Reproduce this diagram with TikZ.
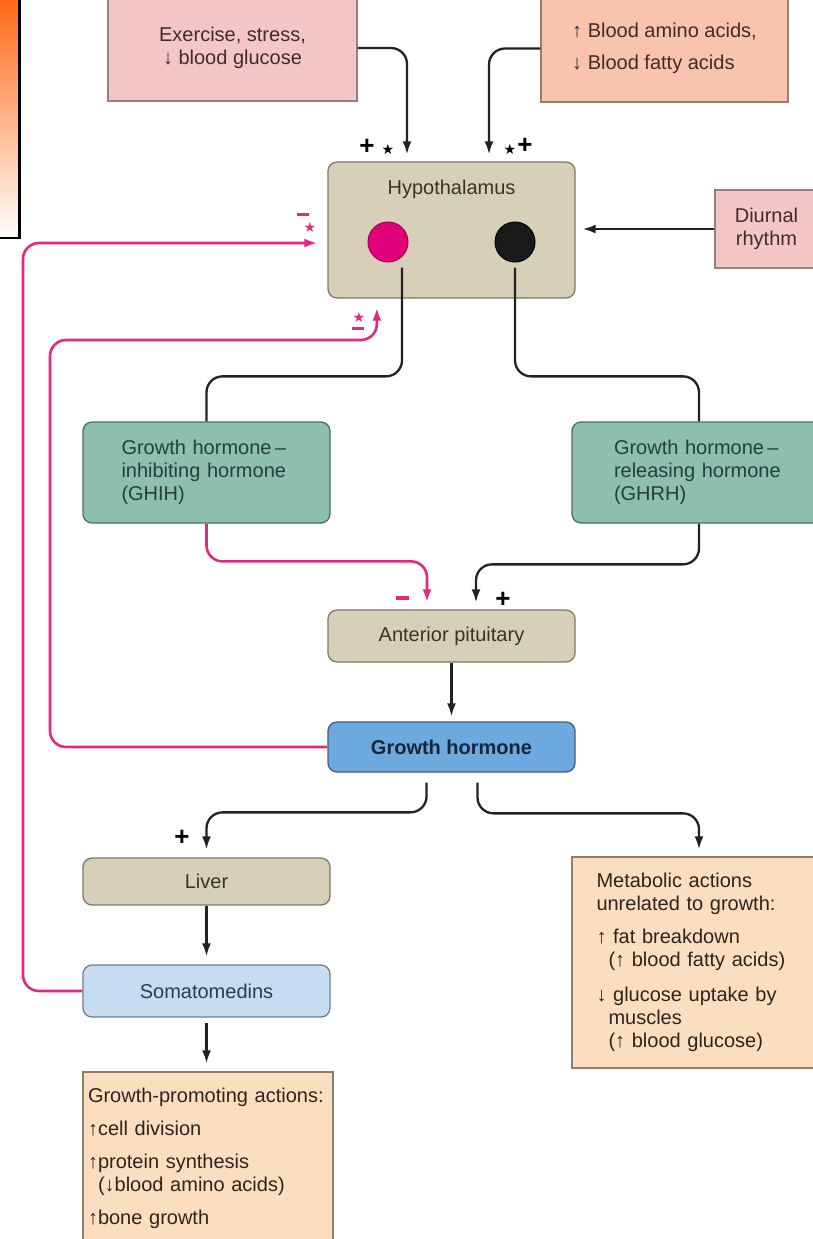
\documentclass[tikz,border=0pt]{standalone}
\usepackage{fontspec}
\setmainfont{Liberation Sans}
\newfontfamily\symf{DejaVu Sans}
\usetikzlibrary{arrows.meta,calc}
\definecolor{pinkc}{HTML}{F5C6C6}\definecolor{pinkb}{HTML}{9A7E7E}\definecolor{pinkt}{HTML}{3E2C2C}
\definecolor{salmc}{HTML}{F8C4AE}\definecolor{salmb}{HTML}{9A7E70}
\definecolor{tanc}{HTML}{D8CFB8}\definecolor{tanb}{HTML}{7E7868}\definecolor{tant}{HTML}{3A3428}
\definecolor{tealc}{HTML}{8DBEB0}\definecolor{tealb}{HTML}{4E6E66}\definecolor{tealt}{HTML}{23403A}
\definecolor{bluec}{HTML}{6DA9DF}\definecolor{blueb}{HTML}{40607E}\definecolor{bluet}{HTML}{14263A}
\definecolor{lbluec}{HTML}{C6DDF1}\definecolor{lblueb}{HTML}{6A7F92}\definecolor{lbluet}{HTML}{2C3C4C}
\definecolor{peachc}{HTML}{FBDDBF}\definecolor{peachb}{HTML}{8E7E6E}\definecolor{peacht}{HTML}{2E241C}
\definecolor{fbpink}{HTML}{E2287F}\definecolor{circpink}{HTML}{E2007A}\definecolor{linec}{HTML}{222222}
\definecolor{decoor}{HTML}{FF6410}
\newcommand{\dfont}{\fontsize{20}{23}\selectfont}
\tikzset{
 base/.style={line width=1.3pt, inner sep=0pt, font=\dfont, align=center},
 sqbox/.style={base, rectangle},
 rbox/.style={base, rectangle, rounded corners=9pt},
 conn/.style={line width=2.3pt, draw=linec, -{Latex[length=13pt,width=9pt]}, rounded corners=16pt},
 fb/.style={conn, draw=fbpink, line width=2.6pt},
 plus/.style={font=\fontsize{26}{26}\selectfont\bfseries, text=black, inner sep=0pt},
 starb/.style={font=\symf\fontsize{14}{14}\selectfont, inner sep=0pt},
 bar/.style={fill=fbpink, minimum width=12pt, minimum height=3pt, inner sep=0pt},
}
\begin{document}
\begin{tikzpicture}[x=1pt,y=-1pt]
\useasboundingbox (0,0) rectangle (813,1239);
% decorative gradient box
\node[draw=black, line width=2.5pt, top color=decoor, bottom color=white, minimum width=26pt, minimum height=245pt, anchor=south east, inner sep=0pt] (deco) at (20.5,239) {};
% boxes
\node[sqbox, fill=pinkc, draw=pinkb, text=pinkt, minimum width=249pt, minimum height=106pt] (ex) at (232.5,48) {Exercise, stress,\\↓ blood glucose};
\node[sqbox, fill=salmc, draw=salmb, text=pinkt, minimum width=247pt, minimum height=107pt, align=left] (am) at (664.5,48.5) {↑ Blood amino acids,\\[9pt]↓ Blood fatty acids};
\node[rbox, fill=tanc, draw=tanb, minimum width=247pt, minimum height=136pt, label={[anchor=north, yshift=-18pt, inner sep=0pt, font=\dfont, text=tant]north:Hypothalamus}] (hyp) at (451.5,230) {};
\node[circle, fill=circpink, draw=circpink!70!black, line width=1pt, minimum size=40pt, inner sep=0pt] (pc) at (388,242) {};
\node[circle, fill=black!90, draw=black, line width=1pt, minimum size=40pt, inner sep=0pt] (bc) at (515,242) {};
\node[sqbox, fill=pinkc, draw=pinkb, text=pinkt, minimum width=103pt, minimum height=78pt] (di) at (766.5,229) {Diurnal\\rhythm};
\node[rbox, fill=tealc, draw=tealb, text=tealt, minimum width=247pt, minimum height=101pt, text width=170pt, align=left] (ghih) at (206.5,472.5) {Growth hormone\,–\\inhibiting hormone\\(GHIH)};
\node[rbox, fill=tealc, draw=tealb, text=tealt, minimum width=254pt, minimum height=101pt, text width=170pt, align=left] (ghrh) at (699,472.5) {Growth hormone\,–\\releasing hormone\\(GHRH)};
\node[rbox, fill=tanc, draw=tanb, text=tant, minimum width=247pt, minimum height=52pt] (pit) at (451.5,636) {Anterior pituitary};
\node[rbox, fill=bluec, draw=blueb, text=bluet, minimum width=247pt, minimum height=50pt, font=\dfont\bfseries] (gh) at (451.5,747) {Growth hormone};
\node[rbox, fill=tanc, draw=tanb, text=tant, minimum width=247pt, minimum height=47pt] (liver) at (206.5,881.5) {Liver};
\node[rbox, fill=lbluec, draw=lblueb, text=lbluet, minimum width=247pt, minimum height=52pt] (som) at (206.5,991) {Somatomedins};
\node[sqbox, fill=peachc, draw=peachb, text=peacht, minimum width=250pt, minimum height=172pt, text width=240pt, align=left] (gp) at (208,1158) {Growth-promoting actions:\\[10pt]↑cell division\\[10pt]↑protein synthesis\\\hspace*{10pt}(↓blood amino acids)\\[10pt]↑bone growth};
\node[sqbox, fill=peachc, draw=peachb, text=peacht, minimum width=254pt, minimum height=211pt, text width=205pt, align=left] (met) at (699,962.5) {Metabolic actions\\unrelated to growth:\\[10pt]↑ fat breakdown\\\hspace*{12pt}(↑ blood fatty acids)\\[12pt]↓ glucose uptake by\\\hspace*{12pt}muscles\\\hspace*{12pt}(↑ blood glucose)};
% connectors
\draw[conn, shorten >=7pt] (ex.east) -| ([xshift=-44.5pt]hyp.north);
\draw[conn, shorten >=7pt] (am.west) -| ([xshift=37.5pt]hyp.north);
\draw[conn, shorten >=7pt] (di.west) -- (di.west -| hyp.east);
\draw[conn, -] ([xshift=14pt,yshift=-5pt]pc.south) |- ($(ghih.north)+(0,-45)$) -- (ghih.north);
\draw[conn, -] ([yshift=-5pt]bc.south) |- ($(ghrh.north)+(0,-45)$) -- (ghrh.north);
\draw[fb, shorten >=7pt] (ghih.south) |- ($([xshift=-24.5pt]pit.north)+(0,-48)$) -- ([xshift=-24.5pt]pit.north);
\draw[conn, shorten >=7pt] (ghrh.south) |- ($([xshift=24.5pt]pit.north)+(0,-45)$) -- ([xshift=24.5pt]pit.north);
\draw[conn, shorten >=5pt] (pit.south) -- (gh.north);
\draw[conn, shorten >=8pt] ([xshift=-25pt,yshift=-10pt]gh.south) |- ($(liver.north)+(0,-45)$) -- (liver.north);
\draw[conn, shorten >=7pt] ([xshift=26pt,yshift=-10pt]gh.south) |- ($(met.north)+(0,-43)$) -- (met.north);
\draw[conn, shorten >=8pt] (liver.south) -- (som.north);
\draw[conn, shorten <=5pt, shorten >=8pt] (som.south) -- (som.south |- gp.north);
\draw[fb, shorten >=9pt] (gh.west) -| (50,340) -| ([xshift=49.5pt]hyp.south west);
\draw[fb, shorten >=10pt] (som.west) -| (23,243) -- ([yshift=-13pt]hyp.west);
% signs
\node[plus] (p1) at (367,147) {+};
\node[starb] (s1) at (388,149) {★};
\node[starb] (s2) at (510,149) {★};
\node[plus] (p2) at (525,146) {+};
\node[bar] (m1) at (303,214) {};
\node[starb, text=fbpink] (s3) at (310,227) {★};
\node[starb, text=fbpink] (s4) at (359,317) {★};
\node[bar] (m2) at (358,328) {};
\node[bar, minimum width=13pt, minimum height=4pt] (m3) at (402,598) {};
\node[plus] (p3) at (503,600) {+};
\node[plus] (p4) at (182,838) {+};
\end{tikzpicture}
\end{document}
